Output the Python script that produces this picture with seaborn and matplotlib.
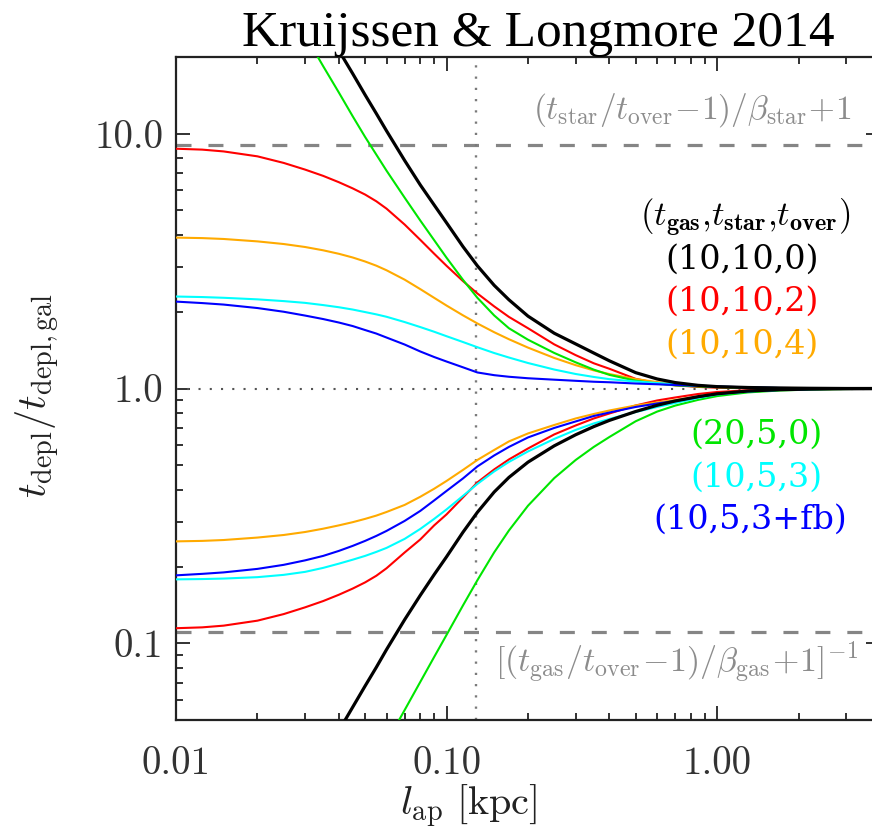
import numpy as np
import pandas as pd
import matplotlib
matplotlib.use("Agg")
import matplotlib.pyplot as plt
import seaborn as sns
from matplotlib.ticker import FixedLocator, FixedFormatter, LogLocator, NullFormatter

# ---- aperture sizes (kpc) ----
lap = [0.01, 0.0125, 0.015, 0.02, 0.025, 0.03, 0.035, 0.04, 0.045, 0.05,
       0.055, 0.06, 0.07, 0.08, 0.09, 0.1, 0.115, 0.13, 0.15, 0.17,
       0.2, 0.25, 0.3, 0.35, 0.4, 0.5, 0.6, 0.7, 0.85, 1.0,
       1.3, 1.7, 2.2, 3.0, 4.0]

# ---- depletion-time bias, apertures focused on stellar peaks (upper branch) ----
red_star = [8.73, 8.66, 8.52, 8.15, 7.68, 7.23, 6.83, 6.45, 6.10, 5.77,
            5.43, 5.08, 4.40, 3.83, 3.38, 3.03, 2.64, 2.36, 2.10, 1.91,
            1.724, 1.49, 1.352, 1.256, 1.195, 1.091, 1.050, 1.029, 1.0145, 1.0072,
            1.002, 1.0, 1.0, 1.0, 1.0]
orange_star = [3.910, 3.893, 3.862, 3.779, 3.690, 3.592, 3.486, 3.378, 3.267, 3.151,
               3.034, 2.911, 2.674, 2.454, 2.269, 2.116, 1.937, 1.800, 1.663, 1.561,
               1.447, 1.318, 1.235, 1.178, 1.139, 1.089, 1.060, 1.042, 1.027, 1.018,
               1.010, 1.005, 1.004, 1.001, 1.0]
cyan_star = [2.296, 2.285, 2.270, 2.238, 2.203, 2.168, 2.125, 2.084, 2.041, 1.995,
             1.954, 1.912, 1.823, 1.742, 1.670, 1.604, 1.522, 1.452, 1.378, 1.323,
             1.259, 1.187, 1.140, 1.110, 1.088, 1.065, 1.051, 1.040, 1.027, 1.018,
             1.009, 1.0045, 1.002, 1.001, 1.0]
blue_star = [2.193, 2.164, 2.135, 2.069, 2.001, 1.933, 1.873, 1.815, 1.758, 1.696,
             1.643, 1.585, 1.488, 1.397, 1.329, 1.276, 1.211, 1.156, 1.128, 1.112,
             1.097, 1.083, 1.072, 1.063, 1.058, 1.046, 1.039, 1.032, 1.025, 1.018,
             1.011, 1.005, 1.003, 1.001, 1.0]

# ---- apertures focused on gas peaks (lower branch) ----
red_gas = [0.1146, 0.1155, 0.1173, 0.1227, 0.1302, 0.1384, 0.1465, 0.1551, 0.1640, 0.1734,
           0.1841, 0.1970, 0.2272, 0.2557, 0.2903, 0.3206, 0.3737, 0.4280, 0.4812, 0.5266,
           0.5816, 0.6603, 0.7159, 0.7628, 0.7979, 0.8577, 0.8973, 0.9220, 0.9515, 0.9689,
           0.9839, 0.9919, 0.9964, 0.9991, 1.0]
orange_gas = [0.2512, 0.2523, 0.2543, 0.2600, 0.2661, 0.2734, 0.2817, 0.2903, 0.2988, 0.3078,
              0.3171, 0.3276, 0.3492, 0.3760, 0.4042, 0.4337, 0.4791, 0.5243, 0.5738, 0.6198,
              0.6662, 0.7190, 0.7627, 0.7943, 0.8199, 0.8577, 0.8813, 0.9013, 0.9303, 0.9515,
              0.9733, 0.9865, 0.9928, 0.9973, 0.9991]
cyan_gas = [0.1782, 0.1787, 0.1795, 0.1818, 0.1856, 0.1907, 0.1977, 0.2054, 0.2129, 0.2203,
            0.2284, 0.2368, 0.2569, 0.2812, 0.3078, 0.3353, 0.3789, 0.4221, 0.4727, 0.5149,
            0.5662, 0.6339, 0.6876, 0.7293, 0.7592, 0.8087, 0.8462, 0.8772, 0.9178, 0.9473,
            0.9733, 0.9865, 0.9937, 0.9973, 0.9991]
blue_gas = [0.1848, 0.1873, 0.1898, 0.1959, 0.2032, 0.2116, 0.2203, 0.2305, 0.2412, 0.2523,
            0.2639, 0.2761, 0.3022, 0.3309, 0.3637, 0.3963, 0.4436, 0.4944, 0.5461, 0.5897,
            0.6426, 0.7001, 0.7425, 0.78, 0.805, 0.8462, 0.8733, 0.8933, 0.9262, 0.9515,
            0.975, 0.9874, 0.9937, 0.9973, 0.9991]

# ---- models without overlap: steep power-law rise/decline at small apertures ----
lap_black = [0.035, 0.04, 0.045, 0.05, 0.055, 0.06, 0.07, 0.08, 0.09, 0.1,
             0.115, 0.13, 0.15, 0.17, 0.2, 0.25, 0.3, 0.35, 0.4, 0.5,
             0.6, 0.7, 0.85, 1.0, 1.3, 1.7, 2.2, 3.0, 4.0]
black_star = [27.0, 21.2, 17.2, 14.2, 12.0, 10.26, 7.85, 6.29, 5.25, 4.47,
              3.605, 3.03, 2.54, 2.23, 1.923, 1.648, 1.496, 1.378, 1.284, 1.154,
              1.090, 1.055, 1.029, 1.017, 1.009, 1.0045, 1.002, 1.0, 1.0]
black_gas = [0.0357, 0.0454, 0.0562, 0.0680, 0.0805, 0.0945, 0.1238, 0.1544, 0.1861, 0.2186,
             0.2729, 0.3267, 0.3925, 0.4477, 0.514, 0.5956, 0.6583, 0.7087, 0.7497, 0.8124,
             0.8592, 0.8934, 0.9286, 0.9533, 0.9777, 0.9892, 0.9946, 0.9982, 0.9995]

lap_green_star = [0.03, 0.035, 0.04, 0.045, 0.05, 0.055, 0.06, 0.07, 0.08, 0.09,
                  0.1, 0.115, 0.13, 0.15, 0.17, 0.2, 0.25, 0.3, 0.35, 0.4,
                  0.5, 0.6, 0.7, 0.85, 1.0, 1.3, 1.7, 2.2, 3.0, 4.0]
green_star = [24.4, 18.4, 14.5, 11.7, 9.71, 8.28, 7.16, 5.61, 4.56, 3.82,
              3.26, 2.67, 2.27, 1.935, 1.724, 1.554, 1.379, 1.267, 1.186, 1.131,
              1.073, 1.044, 1.029, 1.019, 1.012, 1.005, 1.002, 1.001, 1.0, 1.0]
lap_green_gas = [0.06, 0.07, 0.08, 0.09, 0.1, 0.115, 0.13, 0.15, 0.17, 0.2,
                 0.25, 0.3, 0.35, 0.4, 0.5, 0.6, 0.7, 0.85, 1.0, 1.3,
                 1.7, 2.2, 3.0, 4.0]
green_gas = [0.0408, 0.0547, 0.0706, 0.0884, 0.1079, 0.1408, 0.1768, 0.2275, 0.2771, 0.3467,
             0.4448, 0.524, 0.5897, 0.6453, 0.7437, 0.8116, 0.8569, 0.9022, 0.9337, 0.9654,
             0.9821, 0.9901, 0.995, 0.9982]

# reference levels
upper_limit = 9.0        # (t_star/t_over - 1)/beta_star + 1
lower_limit = 0.111      # [(t_gas/t_over - 1)/beta_gas + 1]^-1
l_crit = 0.129           # vertical reference scale (kpc)

model_labels = ["(10,10,0)", "(10,10,2)", "(10,10,4)", "(20,5,0)", "(10,5,3)", "(10,5,3+fb)"]
model_colors = ["black", "#ff0000", "#ffaa00", "#00e600", "#00ffff", "#0000ff"]

sns.set_theme(style="ticks")
plt.rcParams.update({
    "font.family": ["DejaVu Serif"],
    "mathtext.fontset": "cm",
    "lines.scale_dashes": False,
})

W, H = 872, 839
fig = plt.figure(figsize=(W / 100, H / 100), dpi=100)
ax_l, ax_r, ax_t, ax_b = 176, 880, 57, 720
ax = fig.add_axes([ax_l / W, 1 - ax_b / H, (ax_r - ax_l) / W, (ax_b - ax_t) / H])

# reference lines
ax.axhline(upper_limit, color="#858585", lw=2.3, dashes=(10.8, 12.2), zorder=1)
ax.axhline(lower_limit, color="#858585", lw=2.3, dashes=(10.8, 12.2), zorder=1)
ax.axvline(l_crit, color="#7a7a7a", lw=1.7, dashes=(1.6, 6.5), zorder=1)
ax.axhline(1.0, color="#555555", lw=1.5, dashes=(1.5, 6.6), zorder=1)

series = [
    (lap, red_star, "#ff0000", 1.5),
    (lap, red_gas, "#ff0000", 1.5),
    (lap, orange_star, "#ffaa00", 1.5),
    (lap, orange_gas, "#ffaa00", 1.5),
    (lap_green_star, green_star, "#00e600", 1.5),
    (lap_green_gas, green_gas, "#00e600", 1.5),
    (lap, cyan_star, "#00ffff", 1.5),
    (lap, cyan_gas, "#00ffff", 1.5),
    (lap, blue_star, "#0000ff", 1.5),
    (lap, blue_gas, "#0000ff", 1.5),
    (lap_black, black_star, "black", 2.3),
    (lap_black, black_gas, "black", 2.3),
]
for xs, ys, col, lw in series:
    df = pd.DataFrame({"lap": xs, "ratio": ys})
    sns.lineplot(data=df, x="lap", y="ratio", color=col, lw=lw, ax=ax,
                 estimator=None, sort=False, legend=False, zorder=3)

ax.set_xscale("log")
ax.set_yscale("log")
ax.set_xlim(0.01, 4.0)
ax.set_ylim(0.05, 20.0)

ax.xaxis.set_major_locator(FixedLocator([0.01, 0.1, 1.0]))
ax.xaxis.set_major_formatter(FixedFormatter(["0.01", "0.10", "1.00"]))
ax.yaxis.set_major_locator(FixedLocator([0.1, 1.0, 10.0]))
ax.yaxis.set_major_formatter(FixedFormatter(["0.1", "1.0", "10.0"]))
for a in (ax.xaxis, ax.yaxis):
    a.set_minor_locator(LogLocator(base=10, subs=np.arange(2, 10)))
    a.set_minor_formatter(NullFormatter())
ax.tick_params(which="both", direction="in", top=True, right=True,
               color="#222222", width=1.3)
ax.tick_params(which="major", length=10)
ax.tick_params(which="minor", length=5)
ax.tick_params(axis="x", which="major", pad=19, labelsize=28, labelcolor="#333333")
ax.tick_params(axis="y", which="major", pad=9, labelsize=28, labelcolor="#333333")
for lab in ax.get_xticklabels() + ax.get_yticklabels():
    lab.set_family("cmr10")
for sp in ax.spines.values():
    sp.set_linewidth(1.6)
    sp.set_color("#222222")
ax.set_xlabel("")
ax.set_ylabel("")

def axpos(px, py):
    return (px - ax_l) / (ax_r - ax_l), (ax_b - py) / (ax_b - ax_t)

# axis labels
fig.text(469 / W, 1 - 806 / H, r"$l_{\rm ap}\ [{\rm kpc}]$", fontsize=29,
         ha="center", va="center", color="#222222")
fig.text(38 / W, 1 - 395 / H, r"$t_{\rm depl}/t_{\rm depl,gal}$", fontsize=29,
         ha="center", va="center", rotation=90, color="#222222")

# title
fig.text(538 / W, 1 - 46 / H, "Kruijssen & Longmore 2014", family="Liberation Serif",
         fontsize=37, ha="center", va="baseline", color="black")

# reference level annotations
ax.text(*axpos(692, 110), r"$(t_{\rm star}/t_{\rm over}\!-\!1)/\beta_{\rm star}\!+\!1$",
        transform=ax.transAxes, fontsize=24, color="#8c8c8c", ha="center", va="center")
ax.text(*axpos(677, 663), r"$[(t_{\rm gas}/t_{\rm over}\!-\!1)/\beta_{\rm gas}\!+\!1]^{-1}$",
        transform=ax.transAxes, fontsize=24.5, color="#8c8c8c", ha="center", va="center")

# model key
ax.text(*axpos(850, 218), r"$(t_{\bf gas}{,}t_{\bf star}{,}t_{\bf over})$",
        transform=ax.transAxes, fontsize=25, color="black", ha="right", va="center")
key_pos = [(742, 260), (742, 302), (742, 345), (756, 435), (756, 478), (750, 520)]
for lab, col, (px, py) in zip(model_labels, model_colors, key_pos):
    ax.text(*axpos(px, py), lab, transform=ax.transAxes, fontsize=24, color=col,
            ha="center", va="center", family="DejaVu Serif")

fig.savefig("out.png", dpi=100)
